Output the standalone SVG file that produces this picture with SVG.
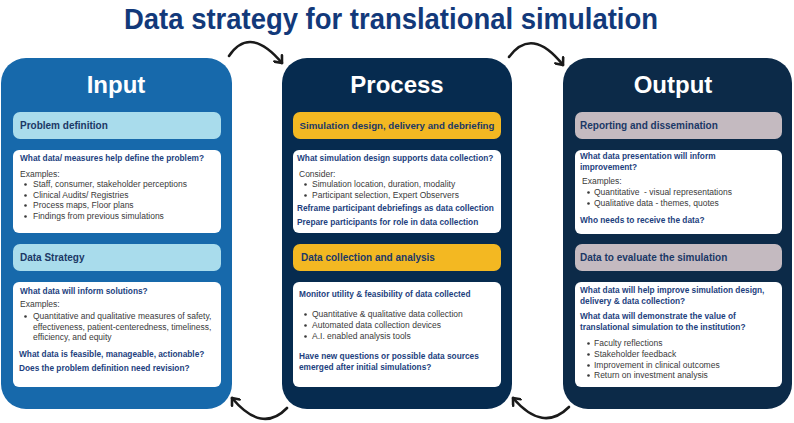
<svg xmlns="http://www.w3.org/2000/svg" width="794" height="423" viewBox="0 0 794 423">
<defs>
<style>
text{font-family:"Liberation Sans",Arial,sans-serif;}
.title{font-size:30px;font-weight:bold;fill:#12397a;}
.ptitle{font-size:24px;font-weight:bold;fill:#ffffff;text-anchor:middle;}
.bar{font-size:10px;font-weight:bold;fill:#1b3866;}
.q{font-size:8.3px;font-weight:bold;fill:#1d3f7e;}
.t{font-size:8.5px;fill:#3a3a3a;}
.box{fill:#ffffff;}
.dot{fill:#3a3a3a;}
.conn{fill:none;stroke:#1a1a1a;stroke-width:2.6;stroke-linecap:round;}
</style>
<marker id="ah" markerUnits="userSpaceOnUse" markerWidth="12" markerHeight="12" refX="8" refY="6" orient="auto">
<path d="M2,1 L8,6 L2,11" fill="none" stroke="#1a1a1a" stroke-width="2.6" stroke-linecap="round" stroke-linejoin="round"/>
</marker>
</defs>
<rect width="794" height="423" fill="#ffffff"/>
<text class="title" x="124" y="29" textLength="534" lengthAdjust="spacingAndGlyphs">Data strategy for translational simulation</text>

<g id="input">
<rect x="1" y="58" width="231" height="351" rx="25" fill="#1769ab"/>
<text class="ptitle" x="116" y="93">Input</text>
<g id="problem-definition">
<rect x="13" y="112" width="208" height="27" rx="7" fill="#a9dcec"/>
<text class="bar" x="20" y="129">Problem definition</text>
</g>
<g id="problem-details">
<rect class="box" x="13" y="150" width="208" height="83" rx="6"/>
<text class="q" x="20" y="161">What data/ measures help define the problem?</text>
<text class="t" x="20" y="177">Examples:</text>
<circle class="dot" cx="25.5" cy="184.5" r="1.3"/><text class="t" x="33" y="187">Staff, consumer, stakeholder perceptions</text>
<circle class="dot" cx="25.5" cy="195.5" r="1.3"/><text class="t" x="33" y="198">Clinical Audits/ Registries</text>
<circle class="dot" cx="25.5" cy="205.5" r="1.3"/><text class="t" x="33" y="208">Process maps, Floor plans</text>
<circle class="dot" cx="25.5" cy="216.5" r="1.3"/><text class="t" x="33" y="219">Findings from previous simulations</text>
</g>
<g id="data-strategy">
<rect x="13" y="244" width="208" height="27" rx="7" fill="#a9dcec"/>
<text class="bar" x="20" y="261">Data Strategy</text>
</g>
<g id="strategy-details">
<rect class="box" x="13" y="282" width="208" height="105" rx="6"/>
<text class="q" x="20" y="294">What data will inform solutions?</text>
<text class="t" x="20" y="307">Examples:</text>
<circle class="dot" cx="25.5" cy="316.5" r="1.3"/><text class="t" x="33" y="319">Quantitative and qualitative measures of safety,</text>
<text class="t" x="33" y="329.5">effectiveness, patient-centeredness, timeliness,</text>
<text class="t" x="33" y="340">efficiency, and equity</text>
<text class="q" x="19" y="357">What data is feasible, manageable, actionable?</text>
<text class="q" x="19" y="371">Does the problem definition need revision?</text>
</g>
</g>

<g id="process">
<rect x="282" y="58" width="230" height="351" rx="25" fill="#062b4f"/>
<text class="ptitle" x="397" y="93">Process</text>
<g id="simulation-design">
<rect x="293" y="112" width="208" height="27" rx="7" fill="#f3b822"/>
<text class="bar" x="397" y="129" text-anchor="middle" style="font-size:9.7px">Simulation design, delivery and debriefing</text>
</g>
<g id="design-details">
<rect class="box" x="293" y="150" width="208" height="83" rx="6"/>
<text class="q" x="297" y="161">What simulation design supports data collection?</text>
<text class="t" x="299" y="177">Consider:</text>
<circle class="dot" cx="305.5" cy="184.5" r="1.3"/><text class="t" x="312" y="187">Simulation location, duration, modality</text>
<circle class="dot" cx="305.5" cy="195.5" r="1.3"/><text class="t" x="312" y="198">Participant selection, Expert Observers</text>
<text class="q" x="297" y="211">Reframe participant debriefings as data collection</text>
<text class="q" x="297" y="225">Prepare participants for role in data collection</text>
</g>
<g id="data-collection">
<rect x="293" y="244" width="208" height="27" rx="7" fill="#f3b822"/>
<text class="bar" x="301" y="261">Data collection and analysis</text>
</g>
<g id="collection-details">
<rect class="box" x="293" y="282" width="208" height="105" rx="6"/>
<text class="q" x="299" y="297">Monitor utility &amp; feasibility of data collected</text>
<circle class="dot" cx="305.5" cy="314.5" r="1.3"/><text class="t" x="312" y="317">Quantitative &amp; qualitative data collection</text>
<circle class="dot" cx="305.5" cy="325.5" r="1.3"/><text class="t" x="312" y="328">Automated data collection devices</text>
<circle class="dot" cx="305.5" cy="336.5" r="1.3"/><text class="t" x="312" y="339">A.I. enabled analysis tools</text>
<text class="q" x="299" y="359">Have new questions or possible data sources</text>
<text class="q" x="299" y="370">emerged after initial simulations?</text>
</g>
</g>

<g id="output">
<rect x="563" y="58" width="229" height="351" rx="25" fill="#0c2a48"/>
<text class="ptitle" x="673" y="93">Output</text>
<g id="reporting">
<rect x="575" y="112" width="207" height="27" rx="7" fill="#c4bac0"/>
<text class="bar" x="580" y="129">Reporting and dissemination</text>
</g>
<g id="reporting-details">
<rect class="box" x="575" y="150" width="207" height="84" rx="6"/>
<text class="q" x="580" y="159">What data presentation will inform</text>
<text class="q" x="580" y="170">improvement?</text>
<text class="t" x="582" y="184">Examples:</text>
<circle class="dot" cx="588.5" cy="192.5" r="1.3"/><text class="t" x="594" y="195" xml:space="preserve">Quantitative  - visual representations</text>
<circle class="dot" cx="588.5" cy="203.5" r="1.3"/><text class="t" x="594" y="206">Qualitative data - themes, quotes</text>
<text class="q" x="580" y="223">Who needs to receive the data?</text>
</g>
<g id="evaluate">
<rect x="575" y="244" width="207" height="27" rx="7" fill="#c4bac0"/>
<text class="bar" x="580" y="261">Data to evaluate the simulation</text>
</g>
<g id="evaluate-details">
<rect class="box" x="575" y="282" width="207" height="105" rx="6"/>
<text class="q" x="580" y="293">What data will help improve simulation design,</text>
<text class="q" x="580" y="304">delivery &amp; data collection?</text>
<text class="q" x="580" y="319">What data will demonstrate the value of</text>
<text class="q" x="580" y="330">translational simulation to the institution?</text>
<circle class="dot" cx="588.5" cy="343.5" r="1.3"/><text class="t" x="594" y="346">Faculty reflections</text>
<circle class="dot" cx="588.5" cy="354.5" r="1.3"/><text class="t" x="594" y="357">Stakeholder feedback</text>
<circle class="dot" cx="588.5" cy="365.5" r="1.3"/><text class="t" x="594" y="368">Improvement in clinical outcomes</text>
<circle class="dot" cx="588.5" cy="375.5" r="1.3"/><text class="t" x="594" y="378">Return on investment analysis</text>
</g>
</g>

<g id="connectors">
<path class="conn" d="M229,56 Q250,25 282,63" marker-end="url(#ah)"/>
<path class="conn" d="M509,57 Q532,26 563,65" marker-end="url(#ah)"/>
<path class="conn" d="M287,408 Q262,434 232,398" marker-end="url(#ah)"/>
<path class="conn" d="M569,407 Q543,433 513,398" marker-end="url(#ah)"/>
</g>
</svg>
